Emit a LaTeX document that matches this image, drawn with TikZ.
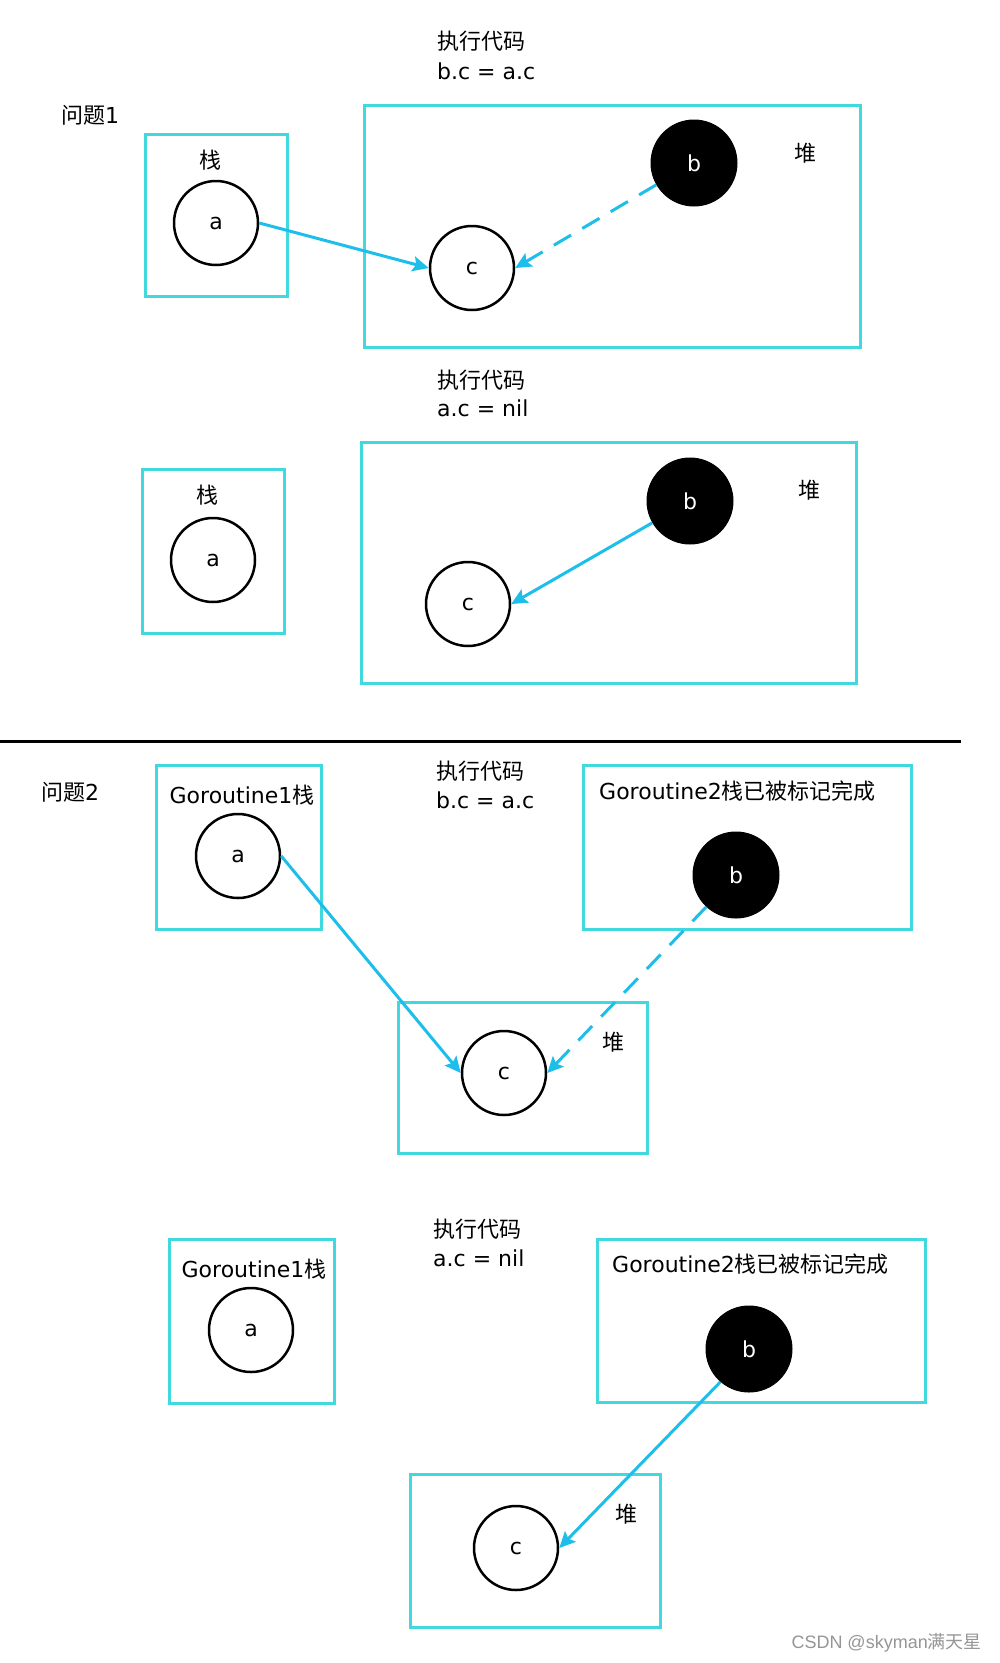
\documentclass[tikz,border=0pt]{standalone}
\usepackage{fontspec}
\setmainfont{DejaVu Sans}
\newfontfamily\cjk{Noto Sans CJK SC}
\newfontfamily\wmfont{Liberation Sans}
\usetikzlibrary{arrows.meta}
\definecolor{boxcyan}{RGB}{66,217,222}
\definecolor{arrowblue}{RGB}{30,190,235}
\definecolor{wmgray}{RGB}{150,150,150}
\begin{document}
\begin{tikzpicture}[x=1pt,y=-1pt,
  regionbox/.style={draw=boxcyan,line width=3pt},
  objwhite/.style={circle,draw=black,line width=2.5pt,fill=white,minimum size=84pt,inner sep=0pt,font=\fontsize{22}{26}\selectfont},
  objblack/.style={circle,draw=black,fill=black,text=white,line width=1pt,minimum size=86pt,inner sep=0pt,font=\fontsize{22}{26}\selectfont},
  lbl/.style={inner sep=0pt,font=\fontsize{22}{26}\selectfont},
  ptr/.style={draw=arrowblue,line width=3pt,-{Stealth[length=16pt,width=15pt,inset=3pt,fill=arrowblue]}},
  dptr/.style={ptr,dash pattern=on 20pt off 13pt}
]
\useasboundingbox[fill=white] (0,0) rectangle (999,1663);

% ---------- Section 1 ----------
\node[lbl,anchor=west] (q1) at (61,115) {{\cjk 问题}1};
\node[lbl,anchor=west] (t1a) at (437,41) {\cjk 执行代码};
\node[lbl,anchor=west] (t1b) at (437,71) {b.c = a.c};
\draw[regionbox] (145,134) rectangle (287,296);
\draw[regionbox] (364,105) rectangle (860,347);
\node[lbl] (s1) at (210,160) {\cjk 栈};
\node[lbl] (h1) at (805,153) {\cjk 堆};
\node[objwhite] (a1) at (216,223) {a};
\node[objwhite] (c1) at (472,268) {c};
\node[objblack] (b1) at (694,163) {b};
\draw[ptr] (a1.east) -- (c1.west);
\draw[dptr] (b1.210) -- (c1.east);

% ---------- Section 2 ----------
\node[lbl,anchor=west] (t2a) at (437,380) {\cjk 执行代码};
\node[lbl,anchor=west] (t2b) at (437,408) {a.c = nil};
\draw[regionbox] (142,469) rectangle (284,633);
\draw[regionbox] (361,442) rectangle (856,683);
\node[lbl] (s2) at (207,495) {\cjk 栈};
\node[lbl] (h2) at (809,490) {\cjk 堆};
\node[objwhite] (a2) at (213,560) {a};
\node[objwhite] (c2) at (468,604) {c};
\node[objblack] (b2) at (690,501) {b};
\draw[ptr] (b2.210) -- (c2.east);

% ---------- separator ----------
\coordinate (sepL) at (0,741);
\coordinate (sepR) at (961,741);
\draw[line width=3pt] (sepL) -- (sepR);

% ---------- Section 3 ----------
\node[lbl,anchor=west] (q2) at (41,792) {{\cjk 问题}2};
\node[lbl,anchor=west] (t3a) at (436,771) {\cjk 执行代码};
\node[lbl,anchor=west] (t3b) at (436,800) {b.c = a.c};
\draw[regionbox] (156,765) rectangle (321,929);
\draw[regionbox] (583,765) rectangle (911,929);
\draw[regionbox] (398,1002) rectangle (647,1153);
\node[lbl] (g13) at (242,795) {Goroutine1{\cjk 栈}};
\node[lbl,anchor=west] (g23) at (599,791) {Goroutine2{\cjk 栈已被标记完成}};
\node[lbl] (h3) at (613,1042) {\cjk 堆};
\node[objwhite] (a3) at (238,856) {a};
\node[objwhite] (c3) at (504,1073) {c};
\node[objblack] (b3) at (736,875) {b};
\draw[ptr] (a3.east) -- (c3.west);
\draw[dptr] (b3.227) -- (c3.east);

% ---------- Section 4 ----------
\node[lbl,anchor=west] (t4a) at (433,1229) {\cjk 执行代码};
\node[lbl,anchor=west] (t4b) at (433,1258) {a.c = nil};
\draw[regionbox] (169,1239) rectangle (334,1403);
\draw[regionbox] (597,1239) rectangle (925,1402);
\draw[regionbox] (410,1474) rectangle (660,1627);
\node[lbl] (g14) at (254,1269) {Goroutine1{\cjk 栈}};
\node[lbl,anchor=west] (g24) at (612,1264) {Goroutine2{\cjk 栈已被标记完成}};
\node[lbl] (h4) at (626,1514) {\cjk 堆};
\node[objwhite] (a4) at (251,1330) {a};
\node[objwhite] (c4) at (516,1548) {c};
\node[objblack] (b4) at (749,1349) {b};
\draw[ptr] (b4.229) -- (c4.east);

% ---------- watermark ----------
\node[inner sep=0pt,anchor=east,text=wmgray,font=\wmfont\fontsize{18}{20}\selectfont] (wm) at (982,1643) {CSDN @skyman{\cjk 满天星}};
\end{tikzpicture}
\end{document}
